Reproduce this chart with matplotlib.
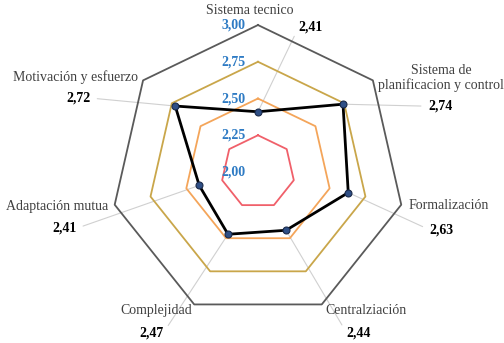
import numpy as np
import matplotlib
matplotlib.use("Agg")
import matplotlib.pyplot as plt

categories = ["Sistema tecnico", "Sistema de\nplanificacion y control", "Formalización",
              "Centralziación", "Complejidad", "Adaptación mutua", "Motivación y esfuerzo"]
values = [2.41, 2.74, 2.63, 2.44, 2.47, 2.41, 2.72]
value_labels = ["2,41", "2,74", "2,63", "2,44", "2,47", "2,41", "2,72"]
ring_levels = [2.25, 2.50, 2.75, 3.00]
tick_levels = [2.00, 2.25, 2.50, 2.75, 3.00]
tick_labels = ["2,00", "2,25", "2,50", "2,75", "3,00"]

ring_colors = ["#F0606A", "#F4A55A", "#C9A64A", "#5A5A5A"]
font = "Liberation Serif"

fig = plt.figure(figsize=(5.04, 3.43), dpi=100)
ax = fig.add_axes([0.2202, 0.07, 0.5833, 0.857], projection="polar")
ax.set_theta_offset(np.pi / 2)
ax.set_theta_direction(-1)
ax.set_ylim(2.0, 3.0)
ax.set_xticks([])
ax.set_yticks([])
ax.grid(False)
ax.spines["polar"].set_visible(False)
ax.set_facecolor("none")

n = len(categories)
theta = np.arange(n) * 2 * np.pi / n
theta_c = np.append(theta, theta[0])

for lvl, col in zip(ring_levels, ring_colors):
    ax.plot(theta_c, [lvl] * (n + 1), color=col, lw=1.3, zorder=2, clip_on=False)

vals_c = values + [values[0]]
ax.plot(theta_c, vals_c, color="black", lw=2.0, zorder=4)
ax.plot(theta, values, "o", ms=5, mfc="#2F4F86", mec="#1A2A4A", mew=0.8, zorder=5)

# tick labels
for lvl, lab in zip(tick_levels, tick_labels):
    ax.annotate(lab, xy=(0, lvl), xytext=(-12, 0), textcoords="offset pixels",
                ha="right", va="center", fontsize=10, fontweight="bold",
                color="#2E7BC4", family=font, zorder=6, annotation_clip=False)

# category labels: (offset px, ha)
cat_off = [((-8, 15), "center"), ((68, 2), "center"), ((7, -1), "left"),
           ((4, -6), "left"), ((-2, -6), "right"), ((-6, -2), "right"), ((-5, 3), "right")]
for t, lab, (off, ha) in zip(theta, categories, cat_off):
    ax.annotate(lab, xy=(t, 3.0), xytext=off, textcoords="offset pixels",
                ha=ha, va="center", fontsize=10, color="#404040", family=font,
                multialignment="center", annotation_clip=False, linespacing=1.1)

# value labels with leader lines
val_off = [((53, 85), (0, 0.5)), ((97, -2), (0, 0.5)), ((93, -37), (0, 0.5)),
           ((73, -103), (0, 0.5)), ((-77, -99), (1, 0.5)), ((-135, -43), (1, 0.5)),
           ((-97, 8), (1, 0.5))]
for t, v, lab, (off, rp) in zip(theta, values, value_labels, val_off):
    ax.annotate(lab, xy=(t, v), xytext=off, textcoords="offset pixels",
                ha="center", va="center", fontsize=10, fontweight="bold",
                color="black", family=font, annotation_clip=False, zorder=1,
                arrowprops=dict(arrowstyle="-", color="#D0D0D0", lw=0.8,
                                relpos=rp, shrinkA=3, shrinkB=0))

fig.savefig("out.png", dpi=100)
